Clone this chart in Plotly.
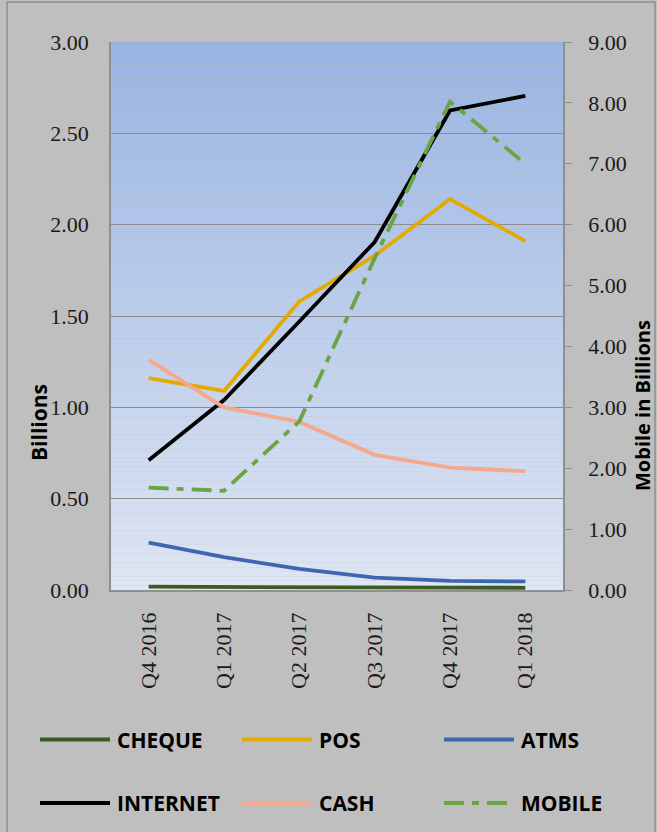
import plotly.graph_objects as go

# Quarterly transaction values (billions)
quarters = ["Q4 2016", "Q1 2017", "Q2 2017", "Q3 2017", "Q4 2017", "Q1 2018"]
cheque = [0.018, 0.018, 0.016, 0.014, 0.013, 0.012]
pos = [1.16, 1.09, 1.58, 1.83, 2.14, 1.91]
atms = [0.26, 0.18, 0.115, 0.068, 0.05, 0.047]
internet = [0.71, 1.04, 1.47, 1.905, 2.625, 2.705]
cash = [1.26, 1.0, 0.92, 0.74, 0.67, 0.65]
# Mobile is plotted against the secondary axis
mobile = [1.68, 1.63, 2.77, 5.45, 8.02, 7.0]

left_ticks = [0, 0.5, 1.0, 1.5, 2.0, 2.5, 3.0]
right_ticks = [0, 1, 2, 3, 4, 5, 6, 7, 8, 9]

W, H = 657, 832
L, R, T, B = 111, 563, 42, 590  # plot area in pixels

def px(x):
    return (x - L) / (R - L)

def py(y):
    return (B - y) / (B - T)

series = [
    ("CHEQUE", cheque, "#3B5B24", "solid", "y"),
    ("POS", pos, "#E3AA00", "solid", "y"),
    ("ATMS", atms, "#3F67B1", "solid", "y"),
    ("INTERNET", internet, "#000000", "solid", "y"),
    ("CASH", cash, "#F4A88C", "solid", "y"),
    ("MOBILE", mobile, "#6AA444", "20px,8px,7px,8px", "y2"),
]

fig = go.Figure()
for name, vals, color, dash, axis in series:
    fig.add_trace(go.Scatter(
        x=quarters, y=vals, name=name, mode="lines", yaxis=axis,
        line=dict(color=color, width=3.8, dash=dash),
        showlegend=False, hoverinfo="skip",
    ))

shapes = []
# vertical gradient for the plotting area
top_rgb = (152, 180, 226)
bot_rgb = (223, 230, 244)
n = 120
for i in range(n):
    t = i / n
    c = tuple(round(top_rgb[k] + (bot_rgb[k] - top_rgb[k]) * (t + 0.5 / n)) for k in range(3))
    shapes.append(dict(
        type="rect", xref="x domain", yref="y domain",
        x0=0, x1=1, y0=1 - (i + 1) / n, y1=1 - i / n,
        fillcolor="rgb(%d,%d,%d)" % c, line=dict(width=0), layer="below",
    ))

# outer frame of the chart
shapes.append(dict(
    type="rect", xref="paper", yref="paper",
    x0=px(7), x1=px(655), y0=py(840), y1=py(2),
    line=dict(color="#8F8F8F", width=1.5), fillcolor="rgba(0,0,0,0)", layer="below",
))

# legend: two rows of three entries
col_x = [40, 242, 444]
row_y = [739.5, 803]
label_font = dict(family="Open Sans", size=21, color="#000000", weight="bold")
annotations = []
for idx, (name, vals, color, dash, axis) in enumerate(series):
    cx = col_x[idx % 3]
    ry = row_y[idx // 3]
    shapes.append(dict(
        type="line", xref="paper", yref="paper",
        x0=px(cx), x1=px(cx + 70), y0=py(ry), y1=py(ry),
        line=dict(color=color, width=4, dash=dash),
    ))
    annotations.append(dict(
        text=name, xref="paper", yref="paper", x=px(cx + 75), y=py(ry),
        xanchor="left", yanchor="middle", showarrow=False, font=label_font,
    ))

annotations.append(dict(
    text="Billions", xref="paper", yref="paper", x=px(39), y=py(423),
    textangle=-90, showarrow=False, xanchor="center", yanchor="middle",
    font=label_font,
))
annotations.append(dict(
    text="Mobile in Billions", xref="paper", yref="paper", x=px(642), y=py(406),
    textangle=-90, showarrow=False, xanchor="center", yanchor="middle",
    font=dict(family="Open Sans", size=20, color="#000000", weight="bold"),
))

tick_font = dict(family="Liberation Serif", size=22, color="#1a1a1a")

fig.update_layout(
    width=W, height=H,
    margin=dict(l=L, r=W - R, t=T, b=H - B, pad=0),
    paper_bgcolor="#BFBFBF",
    plot_bgcolor="rgba(0,0,0,0)",
    shapes=shapes,
    annotations=annotations,
    xaxis=dict(
        type="category", range=[-0.5, 5.5], tickangle=-90,
        showgrid=False, ticks="", showline=True, linecolor="#8F8F8F", linewidth=1.5,
        tickfont=tick_font, ticklabelstandoff=12, fixedrange=True,
    ),
    yaxis=dict(
        range=[0, 3], tickvals=left_ticks, tickformat=".2f",
        showgrid=True, gridcolor="#8C8C8C", gridwidth=1,
        showline=True, linecolor="#8F8F8F", linewidth=1.5, ticks="",
        tickfont=tick_font, ticklabelstandoff=16, zeroline=False,
    ),
    yaxis2=dict(
        range=[0, 9], tickvals=right_ticks, tickformat=".2f",
        overlaying="y", side="right", showgrid=False, zeroline=False,
        showline=True, linecolor="#8F8F8F", linewidth=1.5,
        ticks="outside", ticklen=7, tickcolor="#8F8F8F", tickwidth=1,
        tickfont=tick_font, ticklabelstandoff=12,
    ),
)

fig.write_html("out.html")
